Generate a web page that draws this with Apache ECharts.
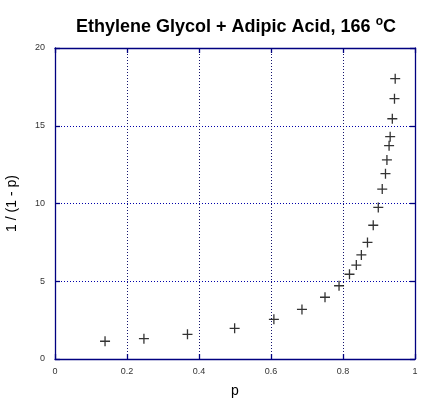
<!DOCTYPE html>
<html>
<head>
<meta charset="utf-8">
<script src="https://cdn.jsdelivr.net/npm/echarts@6/dist/echarts.min.js"></script>
<style>html,body{margin:0;padding:0;background:#fff}#c{width:423px;height:403px}</style>
</head>
<body>
<div id="c"></div>
<script>
var pValues = [0.139, 0.247, 0.368, 0.499, 0.608, 0.686, 0.750, 0.789, 0.818, 0.837, 0.851, 0.868, 0.884, 0.898, 0.909, 0.918, 0.922, 0.928, 0.931, 0.937, 0.943, 0.945];
var invValues = [1.14, 1.31, 1.59, 1.97, 2.55, 3.19, 3.97, 4.71, 5.45, 6.04, 6.69, 7.50, 8.60, 9.75, 10.93, 11.92, 12.80, 13.72, 14.30, 15.45, 16.74, 18.03];
var xTicks = [0, 0.2, 0.4, 0.6, 0.8, 1];
var yTicks = [0, 5, 10, 15, 20];

var navy = '#000080';
var gridCol = '#14146e';
var pts = pValues.map(function (p, i) { return [p, invValues[i]]; });
var plus = 'path://M4.35,0H5.65V10H4.35Z M0,4.35H10V5.65H0Z';

var chart = echarts.init(document.getElementById('c'), null, {renderer: 'canvas'});
var baseX = {
  type: 'value', min: xTicks[0], max: xTicks[xTicks.length - 1], interval: 0.2,
  axisLine: {show: true, onZero: false, lineStyle: {color: navy, width: 1.3}},
  axisTick: {show: true, inside: true, length: 5, lineStyle: {color: navy, width: 1.3}},
  splitLine: {show: false}
};
var baseY = {
  type: 'value', min: yTicks[0], max: yTicks[yTicks.length - 1], interval: 5,
  axisLine: {show: true, onZero: false, lineStyle: {color: navy, width: 1.3}},
  axisTick: {show: true, inside: true, length: 5, lineStyle: {color: navy, width: 1.3}},
  splitLine: {show: false}
};
chart.setOption({
  animation: false,
  backgroundColor: '#fff',
  title: {
    text: 'Ethylene Glycol + Adipic Acid, 166 {sup|o}C',
    left: 231, top: 11, textAlign: 'center',
    textStyle: {
      fontFamily: 'Liberation Sans, Arial', fontSize: 18, fontWeight: 'bold', color: '#000',
      rich: {sup: {fontFamily: 'Liberation Sans, Arial', fontSize: 12, fontWeight: 'bold', color: '#000', verticalAlign: 'top', padding: [0, 0, 10, 0]}}
    }
  },
  grid: {left: 55, right: 8, top: 48, bottom: 44, containLabel: false, outerBoundsMode: 'none'},
  xAxis: [
    Object.assign({}, baseX, {
      position: 'bottom',
      name: 'p', nameLocation: 'middle', nameGap: 25,
      nameTextStyle: {fontFamily: 'Liberation Sans, Arial', fontSize: 14, color: '#000'},
      axisLabel: {show: true, fontFamily: 'Liberation Sans, Arial', fontSize: 9, color: '#333', margin: 8,
        formatter: function (v) { return String(Math.round(v * 10) / 10); }},
      splitLine: {show: true, lineStyle: {color: gridCol, type: [1, 2], width: 1}}
    }),
    Object.assign({}, baseX, {position: 'top', axisLabel: {show: false}})
  ],
  yAxis: [
    Object.assign({}, baseY, {
      position: 'left',
      name: '1 / (1 - p)', nameLocation: 'middle', nameGap: 36, nameRotate: 90,
      nameTextStyle: {fontFamily: 'Liberation Sans, Arial', fontSize: 14, color: '#000'},
      axisLabel: {show: true, fontFamily: 'Liberation Sans, Arial', fontSize: 9, color: '#333', margin: 10},
      splitLine: {show: true, lineStyle: {color: '#0000aa', type: [1, 2], width: 1}}
    }),
    Object.assign({}, baseY, {position: 'right', axisLabel: {show: false}})
  ],
  series: [{
    type: 'scatter',
    xAxisIndex: 0, yAxisIndex: 0,
    data: pts,
    symbol: plus,
    symbolSize: 10,
    itemStyle: {color: '#000'}
  }]
});
</script>
</body>
</html>
